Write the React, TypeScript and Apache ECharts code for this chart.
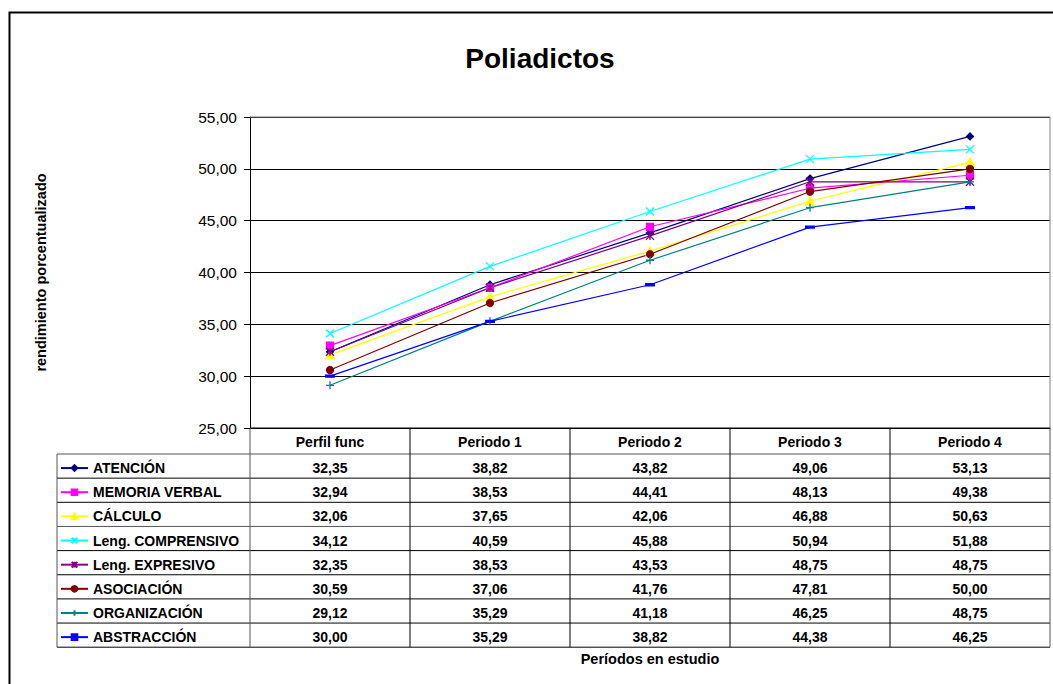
import React, { useEffect, useRef } from "react";
import * as echarts from "echarts";

const categories = ["Perfil func", "Periodo 1", "Periodo 2", "Periodo 3", "Periodo 4"];
const seriesNames = [
  "ATENCIÓN",
  "MEMORIA VERBAL",
  "CÁLCULO",
  "Leng. COMPRENSIVO",
  "Leng. EXPRESIVO",
  "ASOCIACIÓN",
  "ORGANIZACIÓN",
  "ABSTRACCIÓN",
];
const atencion = [32.35, 38.82, 43.82, 49.06, 53.13];
const memoriaVerbal = [32.94, 38.53, 44.41, 48.13, 49.38];
const calculo = [32.06, 37.65, 42.06, 46.88, 50.63];
const lengComprensivo = [34.12, 40.59, 45.88, 50.94, 51.88];
const lengExpresivo = [32.35, 38.53, 43.53, 48.75, 48.75];
const asociacion = [30.59, 37.06, 41.76, 47.81, 50.0];
const organizacion = [29.12, 35.29, 41.18, 46.25, 48.75];
const abstraccion = [30.0, 35.29, 38.82, 44.38, 46.25];
const seriesValues = [
  atencion,
  memoriaVerbal,
  calculo,
  lengComprensivo,
  lengExpresivo,
  asociacion,
  organizacion,
  abstraccion,
];

const colors = ["#000080", "#FF00FF", "#FFFF00", "#00FFFF", "#800080", "#800000", "#008080", "#0000FF"];
const symbols = [
  "diamond",
  "rect",
  "triangle",
  "path://M0,0L10,10M10,0L0,10",
  "path://M0,0L10,10M10,0L0,10M5,0L5,10",
  "circle",
  "path://M5,0L5,10M0,5L10,5",
  "rect",
];
const symbolSizes: any[] = [7, 7, 8, 8, 8, 7, 8, [6, 2]];

const FONT = "'Liberation Sans', Arial, sans-serif";
const fmt = (v: number) => v.toFixed(2).replace(".", ",");

export default function App() {
  const ref = useRef<HTMLDivElement>(null);
  useEffect(() => {
    document.body.style.margin = "0";
    const chart = echarts.init(ref.current!, null, { renderer: "svg" });
    const option: any = {
      animation: false,
      backgroundColor: "#ffffff",
      title: {
        text: "Poliadictos",
        left: 535,
        top: 39,
        textAlign: "center",
        textStyle: { fontFamily: FONT, fontSize: 28, fontWeight: "bold", color: "#000" },
      },
      grid: { left: 250, right: 3, top: 117, bottom: 256, containLabel: false },
      xAxis: {
        type: "category",
        data: categories,
        boundaryGap: true,
        axisLine: { show: true, lineStyle: { color: "#000", width: 1 } },
        axisTick: { show: false },
        axisLabel: { show: false },
        name: "Períodos en estudio",
        nameLocation: "middle",
        nameGap: 223,
        nameTextStyle: { fontFamily: FONT, fontSize: 14.5, fontWeight: "bold", color: "#000" },
      },
      yAxis: {
        type: "value",
        min: 25,
        max: 55,
        interval: 5,
        axisLine: { show: true, lineStyle: { color: "#000", width: 1 } },
        axisTick: { show: true, length: 6, lineStyle: { color: "#000" } },
        axisLabel: {
          formatter: (v: number) => fmt(v),
          fontFamily: FONT,
          fontSize: 15.5,
          color: "#000",
          margin: 13,
        },
        splitLine: { show: true, lineStyle: { color: "#000", width: 1 } },
        name: "rendimiento porcentualizado",
        nameLocation: "middle",
        nameRotate: 90,
        nameGap: 202,
        nameTextStyle: { fontFamily: FONT, fontSize: 14.5, fontWeight: "bold", color: "#000" },
      },
      series: seriesNames.map((name, i) => ({
        name,
        type: "line",
        data: seriesValues[i],
        symbol: symbols[i],
        symbolSize: symbolSizes[i],
        showAllSymbol: true,
        lineStyle: { color: colors[i], width: 1.2 },
        itemStyle: { color: colors[i], borderColor: colors[i], borderWidth: 1.3 },
        emphasis: { disabled: true },
        z: 3,
      })),
    };
    chart.setOption(option);

    // Build the data table from the axis scales
    const cx = categories.map((c) => chart.convertToPixel({ xAxisIndex: 0 }, c) as number);
    const colW = cx[1] - cx[0];
    const gridLeft = cx[0] - colW / 2;
    const gridRight = cx[cx.length - 1] + colW / 2;
    const tableTop = chart.convertToPixel({ yAxisIndex: 0 }, 25) as number;
    const plotTop = chart.convertToPixel({ yAxisIndex: 0 }, 55) as number;
    const headerH = 26;
    const rowH = 24.15;
    const legendLeft = 57;
    const bodyTop = tableTop + headerH;
    const tableBottom = bodyTop + rowH * seriesNames.length;

    const g: any[] = [];
    const line = (x1: number, y1: number, x2: number, y2: number, color = "#000", w = 1) =>
      g.push({
        type: "line",
        shape: { x1, y1, x2, y2 },
        style: { stroke: color, lineWidth: w },
        silent: true,
        z: 10,
      });
    // outer frame
    g.push({
      type: "rect",
      shape: { x: 9.5, y: 12.5, width: 1100, height: 720 },
      style: { fill: "none", stroke: "#000", lineWidth: 2 },
      silent: true,
      z: 10,
    });
    // plot top & right borders (grey)
    line(gridLeft, plotTop, gridRight, plotTop, "#808080");
    line(gridRight, plotTop, gridRight, tableTop, "#808080");
    // table horizontal lines
    line(gridLeft, tableTop, gridRight, tableTop, "#000");
    for (let r = 0; r <= seriesNames.length; r++) {
      const y = bodyTop + r * rowH;
      line(legendLeft, y, gridRight, y, r === 3 || r === 0 ? "#555" : "#000");
    }
    // vertical lines
    line(legendLeft, bodyTop, legendLeft, tableBottom, "#555");
    for (let c = 0; c <= categories.length; c++) {
      const x = gridLeft + c * colW;
      line(x, tableTop, x, tableBottom, c === 0 || c === categories.length ? "#555" : "#000");
    }
    // header texts
    categories.forEach((c, i) => {
      g.push({
        type: "text",
        x: cx[i],
        y: tableTop + headerH / 2 + 1,
        style: {
          text: c,
          fontFamily: FONT,
          fontSize: 14,
          fontWeight: "bold",
          fill: "#000",
          align: "center",
          verticalAlign: "middle",
        },
        silent: true,
        z: 11,
      });
    });
    // values
    seriesValues.forEach((vals, r) => {
      vals.forEach((v, c) => {
        g.push({
          type: "text",
          x: cx[c],
          y: bodyTop + r * rowH + rowH / 2 + 2,
          style: {
            text: fmt(v),
            fontFamily: FONT,
            fontSize: 14,
            fontWeight: "bold",
            fill: "#000",
            align: "center",
            verticalAlign: "middle",
          },
          silent: true,
          z: 11,
        });
      });
    });

    const legends = seriesNames.map((name, r) => ({
      show: true,
      data: [name],
      left: 60,
      top: bodyTop + r * rowH + (rowH - 16) / 2 + 3,
      padding: 0,
      itemWidth: 27,
      itemHeight: 7,
      itemGap: 4,
      selectedMode: false,
      textStyle: { fontFamily: FONT, fontSize: 14, fontWeight: "bold", color: "#000", padding: [0, 0, 0, 0] },
    }));

    chart.setOption({ graphic: g, legend: legends });
    return () => chart.dispose();
  }, []);
  return <div ref={ref} style={{ width: 1053, height: 684 }} />;
}
